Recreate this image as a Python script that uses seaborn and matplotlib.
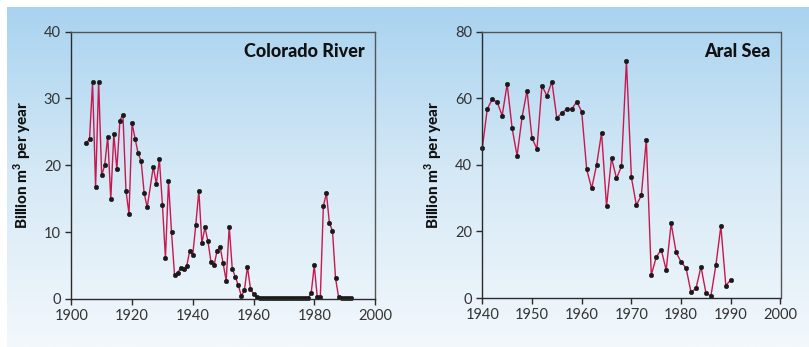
import numpy as np
import pandas as pd
import matplotlib
matplotlib.use("Agg")
import matplotlib.pyplot as plt
from matplotlib.colors import LinearSegmentedColormap
import seaborn as sns

# ---- data ----
colorado_years = [1905, 1906, 1907, 1908, 1909, 1910, 1911, 1912, 1913, 1914,
                  1915, 1916, 1917, 1918, 1919, 1920, 1921, 1922, 1923, 1924,
                  1925, 1927, 1928, 1929, 1930, 1931, 1932, 1933, 1934, 1935,
                  1936, 1937, 1938, 1939, 1940, 1941, 1942, 1943, 1944, 1945,
                  1946, 1947, 1948, 1949, 1950, 1951, 1952, 1953, 1954, 1955,
                  1956, 1957, 1958, 1959, 1960, 1961, 1962, 1963, 1964, 1965,
                  1966, 1967, 1968, 1969, 1970, 1971, 1972, 1973, 1974, 1975,
                  1976, 1977, 1978, 1979, 1980, 1981, 1982, 1983, 1984, 1985,
                  1986, 1987, 1988, 1989, 1990, 1991, 1992]
colorado_flow = [23.4, 23.9, 32.4, 16.7, 32.5, 18.5, 20.0, 24.3, 14.9, 24.7,
                 19.4, 26.7, 27.6, 16.2, 12.7, 26.3, 24.0, 21.8, 20.6, 15.8,
                 13.7, 19.8, 17.2, 20.9, 14.1, 6.1, 17.6, 10.0, 3.5, 3.9,
                 4.6, 4.5, 4.9, 7.2, 6.6, 11.1, 16.2, 8.3, 10.7, 8.6,
                 5.5, 5.0, 7.2, 7.8, 5.3, 2.7, 10.8, 4.5, 3.3, 2.0,
                 0.4, 1.3, 4.8, 1.5, 0.7, 0.2, 0.1, 0.1, 0.1, 0.1,
                 0.1, 0.1, 0.1, 0.1, 0.1, 0.1, 0.1, 0.1, 0.1, 0.1,
                 0.1, 0.1, 0.1, 0.9, 5.0, 0.2, 0.3, 13.9, 15.8, 11.3,
                 10.2, 3.1, 0.3, 0.1, 0.1, 0.1, 0.1]

aral_years = list(range(1940, 1991))
aral_flow = [45.0, 56.8, 59.7, 58.8, 54.8, 64.3, 51.0, 42.7, 54.3, 62.3,
             48.0, 44.8, 63.8, 60.7, 65.0, 54.0, 55.6, 56.8, 56.7, 59.0,
             56.0, 38.7, 32.9, 40.0, 49.7, 27.5, 42.1, 35.9, 39.6, 71.2,
             36.2, 27.9, 30.8, 47.6, 6.9, 12.3, 14.5, 8.4, 22.4, 13.7,
             10.8, 9.0, 1.7, 2.9, 9.4, 1.5, 0.6, 9.9, 21.6, 3.7,
             5.5]

titles = ["Colorado River", "Aral Sea"]
y_label = "Billion m$^{\\mathbf{3}}$ per year"
left_xticks = [1900, 1920, 1940, 1960, 1980, 2000]
left_yticks = [0, 10, 20, 30, 40]
right_xticks = [1940, 1950, 1960, 1970, 1980, 1990, 2000]
right_yticks = [0, 20, 40, 60, 80]

# ---- style ----
sns.set_theme(style="ticks")
plt.rcParams["font.family"] = ["Lato", "DejaVu Sans"]
plt.rcParams["mathtext.fontset"] = "custom"
plt.rcParams["mathtext.rm"] = "Lato"
plt.rcParams["mathtext.bf"] = "Lato:black"

LINE = "#c8174f"
SPINE = "#2b2b2b"

W, H = 809, 347
fig = plt.figure(figsize=(W / 100, H / 100), dpi=100)
fig.patch.set_facecolor("white")

# gradient background panel
bg = fig.add_axes([7 / W, 0, 1 - 7 / W, (H - 7) / H], zorder=-10)
cmap = LinearSegmentedColormap.from_list("bgc", ["#f3f8fc", "#d6e9f6", "#a9d3f0"])
grad = np.linspace(0, 1, 256).reshape(-1, 1)
bg.imshow(grad, aspect="auto", cmap=cmap, origin="lower", extent=[0, 1, 0, 1])
bg.set_axis_off()


def px_axes(x0, x1, y0, y1):
    return fig.add_axes([x0 / W, 1 - y1 / H, (x1 - x0) / W, (y1 - y0) / H])


ax1 = px_axes(71.3, 375.0, 31.7, 298.8)
ax2 = px_axes(482.3, 780.5, 31.7, 298.0)

panels = [
    (ax1, colorado_years, colorado_flow, (1900, 2000), (0, 40), left_xticks, left_yticks, titles[0]),
    (ax2, aral_years, aral_flow, (1940, 2000), (0, 80), right_xticks, right_yticks, titles[1]),
]

for ax, yrs, vals, xl, yl, xt, yt, title in panels:
    ax.set_facecolor("none")
    df = pd.DataFrame({"year": yrs, "flow": vals})
    sns.lineplot(data=df, x="year", y="flow", ax=ax, color=LINE, linewidth=1.0,
                 marker="o", markersize=3.2, markerfacecolor="#1a1a1a",
                 markeredgecolor="#1a1a1a", markeredgewidth=0.4, clip_on=False)
    ax.set_xlim(*xl)
    ax.set_ylim(*yl)
    ax.set_xticks(xt)
    ax.set_yticks(yt)
    ax.set_xticklabels([str(v) for v in xt])
    ax.set_yticklabels([str(v) for v in yt])
    ax.set_xlabel("")
    ax.set_ylabel(y_label, fontsize=11, fontweight="black", color="#111111", labelpad=8)
    for s in ax.spines.values():
        s.set_visible(True)
        s.set_color(SPINE)
        s.set_linewidth(1.0)
    ax.spines["top"].set_color("#555555")
    ax.spines["right"].set_color("#555555")
    ax.tick_params(axis="both", direction="out", length=4.5, width=1.0, color=SPINE,
                   labelsize=10.5, labelcolor="#333333", pad=3)
    bb = ax.get_position()
    ax.text(1 - 10 / (bb.width * W), 0.905, title, transform=ax.transAxes, ha="right",
            va="baseline", fontsize=13, fontweight="black", color="#111111")

fig.savefig("out.png", dpi=100)
